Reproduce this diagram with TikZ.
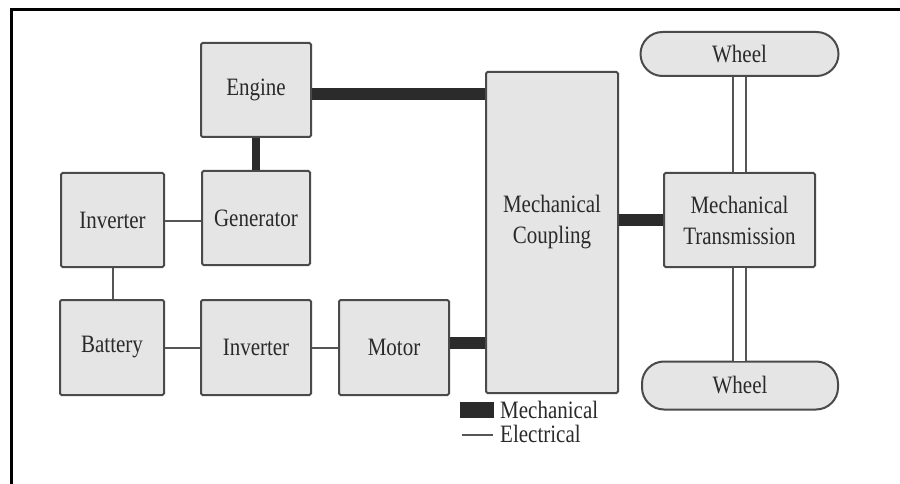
\documentclass[tikz,border=0pt]{standalone}
\usepackage{fontspec}
\setmainfont[FakeStretch=0.84]{Liberation Serif}
\definecolor{boxfill}{HTML}{E5E5E5}
\definecolor{boxline}{HTML}{4A4A4A}
\definecolor{mechc}{HTML}{2B2B2B}
\definecolor{elec}{HTML}{555555}
\definecolor{txt}{HTML}{2A2A2A}
\tikzset{
  blk/.style={draw=boxline, line width=2pt, fill=boxfill, rounded corners=1.5pt, inner sep=0pt, align=center, text=txt},
  wheelbox/.style={draw=boxline, line width=2pt, fill=boxfill, rounded corners=22pt, inner sep=0pt, text=txt},
  mech/.style={draw=mechc, line width=12pt},
  elecl/.style={draw=elec, line width=2pt},
  axle/.style={draw=elec, line width=1.8pt, double=white, double distance=11.5pt},
  lbl/.style={text=txt, inner sep=0pt}
}
\begin{document}
\begin{tikzpicture}[x=1pt, y=-1pt, font=\fontsize{25}{31}\selectfont]
\useasboundingbox (0,0) rectangle (900,484);
% frame
\draw[line width=3pt, black] (11,484) -- (11,10) -- (900,10);
% boxes
\node[blk, minimum width=110pt, minimum height=94pt] (engine) at (256,90) {Engine};
\node[blk, minimum width=108pt, minimum height=94pt] (gen) at (256,218) {Generator};
\node[blk, minimum width=103pt, minimum height=94pt] (inv1) at (112.5,220) {Inverter};
\node[blk, minimum width=104pt, minimum height=95pt] (bat) at (112,347.5) {Battery};
\node[blk, minimum width=110pt, minimum height=95pt] (inv2) at (256,347.5) {Inverter};
\node[blk, minimum width=110pt, minimum height=95pt] (motor) at (394,347.5) {Motor};
\node[blk, minimum width=132pt, minimum height=321pt] (coupling) at (552,232.5) {};
\node[lbl, align=center] (couplingtext) at (552,222) {Mechanical\\Coupling};
\node[blk, minimum width=151pt, minimum height=94pt] (trans) at (739.5,220) {Mechanical\\Transmission};
\node[wheelbox, minimum width=198pt, minimum height=44pt] (w1) at (739.5,54) {Wheel};
\node[wheelbox, minimum width=196pt, minimum height=48pt] (w2) at (740,385.5) {Wheel};
% mechanical links
\draw[mech] ([yshift=-4pt]engine.east) -- ([yshift=-4pt]engine.east -| coupling.west);
\draw[mech] ([yshift=5pt]motor.east) -- ([yshift=5pt]motor.east -| coupling.west);
\draw[mech] (coupling.east |- trans.west) -- (trans.west);
\draw[mech, line width=8pt] (engine.south) -- (gen.north);
% electrical links
\draw[elecl] ([yshift=-1pt]inv1.east) -- ([yshift=-1pt]inv1.east -| gen.west);
\draw[elecl] (inv1.south) -- (inv1.south |- bat.north);
\draw[elecl] (bat.east) -- (bat.east -| inv2.west);
\draw[elecl] (inv2.east) -- (inv2.east -| motor.west);
% axles
\draw[axle] (w1.south) -- (w1.south |- trans.north);
\draw[axle] (trans.south) -- (trans.south |- w2.north);
% legend
\node[fill=mechc, draw=mechc, minimum width=33pt, minimum height=15pt, inner sep=0pt] (legmech) at (476.5,409.5) {};
\coordinate (legel1) at (462,435);
\coordinate (legel2) at (493,435);
\draw[elecl] (legel1) -- (legel2);
\node[lbl, anchor=base west] (legmechtext) at (500,418) {Mechanical};
\node[lbl, anchor=base west] (legeltext) at (500,442) {Electrical};
\end{tikzpicture}
\end{document}
